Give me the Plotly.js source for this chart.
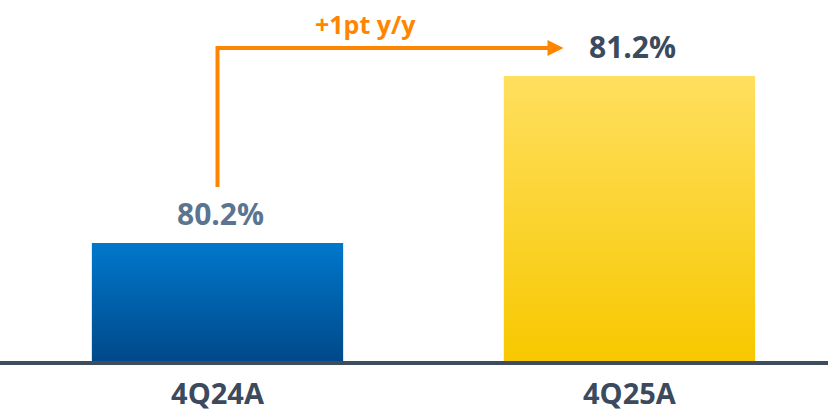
<!DOCTYPE html>
<html>
<head>
<meta charset="utf-8">
<script src="https://cdn.plot.ly/plotly-3.0.1.min.js"></script>
<style>
  html, body { margin: 0; padding: 0; background: #ffffff; }
  #chart { width: 828px; height: 413px; }
</style>
</head>
<body>
<div id="chart"></div>
<script>
// ---- data ----
const categories = ["4Q24A", "4Q25A"];
const values = [80.2, 81.2];
const valueLabels = ["80.2%", "81.2%"];
const changeLabel = "+1pt y/y";

// ---- styling ----
const yMin = 79.493, yMax = 81.655;
const FONT = "Open Sans, Liberation Sans, sans-serif";
const ORANGE = "#ff8500";
const DARK = "#3b4a5c";
const labelColors = ["#5b7590", DARK];
const gradients = [
  ["#0078cc", "#00498a"],
  ["#ffdf5f", "#f7c800"]
];

const trace = {
  type: "bar",
  x: categories,
  y: values.map(v => v - yMin),
  base: yMin,
  width: 0.61,
  marker: { color: gradients.map(g => g[1]), line: { width: 0 } },
  hoverinfo: "skip"
};

const annotations = values.map((v, i) => ({
  x: categories[i], y: v, xref: "x", yref: "y",
  text: valueLabels[i], showarrow: false,
  yanchor: "bottom", yshift: 7, xshift: 3,
  font: { family: FONT, size: 30, color: labelColors[i], weight: 700 }
}));

// elbow arrow from above first value to before second label
const arrowStartY = values[0] + 0.335;
const arrowTopY = values[1] + 0.168;
const arrowEndX = 0.84;

annotations.push({
  x: 0.36, y: arrowTopY, xref: "x", yref: "y",
  text: changeLabel, showarrow: false, yanchor: "bottom", yshift: 5,
  font: { family: FONT, size: 25, color: ORANGE, weight: 700 }
});

const shapes = [
  {
    type: "path", xref: "x", yref: "y",
    path: `M 0 ${arrowStartY} L 0 ${arrowTopY} L ${arrowEndX - 0.035} ${arrowTopY}`,
    line: { color: ORANGE, width: 4 }, fillcolor: "rgba(0,0,0,0)"
  },
  {
    type: "path", xref: "x", yref: "y",
    xsizemode: "pixel", ysizemode: "pixel",
    xanchor: arrowEndX, yanchor: arrowTopY,
    path: "M -16 -8 L 0 0 L -16 8 Z",
    line: { width: 0 }, fillcolor: ORANGE
  }
];

const layout = {
  width: 828, height: 413,
  margin: { l: 0, r: 0, t: 0, b: 52 },
  paper_bgcolor: "#ffffff", plot_bgcolor: "#ffffff",
  showlegend: false,
  xaxis: {
    type: "category",
    range: [-0.528, 1.482],
    showgrid: false, zeroline: false,
    showline: true, linecolor: "#3e4d5e", linewidth: 3.5,
    ticks: "", ticklabelstandoff: 5,
    tickfont: { family: FONT, size: 29, color: DARK, weight: 700 }
  },
  yaxis: {
    range: [yMin, yMax],
    visible: false, showgrid: false, zeroline: false
  },
  annotations: annotations,
  shapes: shapes
};

Plotly.newPlot("chart", [trace], layout, { displayModeBar: false, staticPlot: true }).then(gd => {
  const svg = gd.querySelector("svg.main-svg");
  const ns = "http://www.w3.org/2000/svg";
  let defs = svg.querySelector("defs");
  if (!defs) { defs = document.createElementNS(ns, "defs"); svg.insertBefore(defs, svg.firstChild); }
  gradients.forEach((g, i) => {
    const lg = document.createElementNS(ns, "linearGradient");
    lg.setAttribute("id", "barGrad" + i);
    lg.setAttribute("x1", "0"); lg.setAttribute("y1", "0");
    lg.setAttribute("x2", "0"); lg.setAttribute("y2", "1");
    [[0, g[0]], [1, g[1]]].forEach(([o, c]) => {
      const st = document.createElementNS(ns, "stop");
      st.setAttribute("offset", o);
      st.setAttribute("stop-color", c);
      lg.appendChild(st);
    });
    defs.appendChild(lg);
  });
  gd.querySelectorAll(".bars .point path").forEach((p, i) => {
    p.style.fill = "url(#barGrad" + i + ")";
  });
});
</script>
</body>
</html>
